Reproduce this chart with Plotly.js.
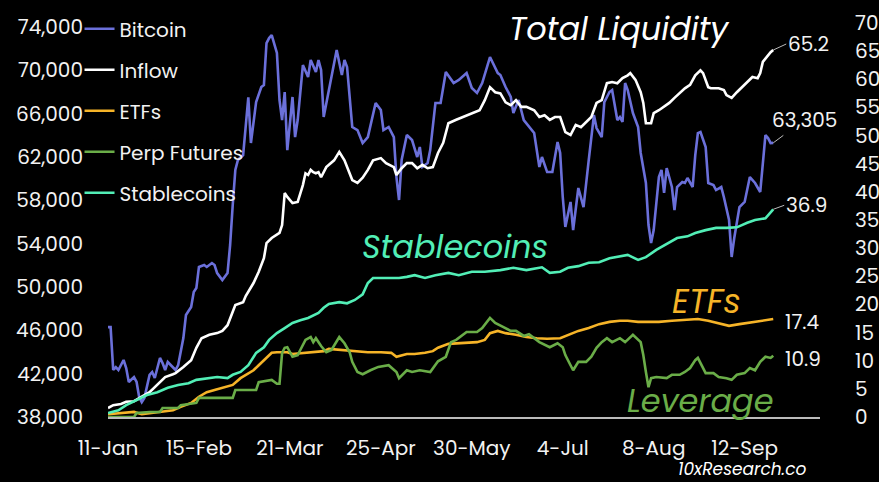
<!DOCTYPE html>
<html><head><meta charset="utf-8">
<script src="https://cdn.plot.ly/plotly-3.0.1.min.js"></script>
<style>html,body{margin:0;padding:0;background:#000;}#chart{width:879px;height:482px;}</style>
</head><body><div id="chart"></div>
<script>
// x values: days since 11-Jan-2024
const tickDays = [0, 35, 70, 105, 140, 175, 210, 245];
const tickLabels = ['11-Jan', '15-Feb', '21-Mar', '25-Apr', '30-May', '4-Jul', '8-Aug', '12-Sep'];
const leftTicks = [38000, 42000, 46000, 50000, 54000, 58000, 62000, 66000, 70000, 74000];

const btcDay = [0,1,2,3,4,6,7,8,10,11,12,13,14,16,17,18,20,21,22,23,26,27,29,30,32,33,34,35,37,38,40,41,42,44,46,47,48,49,50,52,54,55,57,59,60,61,62,63,65,66,67,68,69,71,72,73,75,77,78,80,81,82,83,85,86,88,90,91,92,94,96,98,100,103,105,106,108,110,111,112,113,115,117,119,120,121,123,124,126,128,130,133,135,138,140,142,144,147,150,151,153,155,156,158,160,162,164,166,167,169,171,173,174,175,176,178,179,181,183,185,187,188,190,191,193,194,196,197,198,199,200,202,204,205,207,208,209,210,212,213,214,215,217,218,219,221,222,223,225,226,227,228,230,231,233,234,236,237,239,240,241,243,245,247,249,251,252,253,254,255,256];
const btcVal = [46300,46300,42340,42600,42340,43260,42520,41230,41690,41230,39850,39380,39750,41880,42150,41600,43450,42980,42340,43080,42340,42800,45290,47410,48150,49540,49900,51850,52030,51850,52210,52030,51290,50650,51290,53880,57570,60800,61720,62180,67500,63290,67070,68460,68640,72520,72980,73260,71600,67260,65410,68000,62640,67540,63840,65410,70490,69380,70950,69840,70950,70030,65690,68180,69380,71870,69570,70950,70300,64770,64490,63290,63840,66980,66340,64490,64770,63840,60150,58030,61720,64030,63570,62000,62920,61080,61440,62640,66980,66980,69840,68830,69110,69750,68370,67910,68830,71230,69750,69570,68460,67540,66060,67260,65410,64770,64210,61080,62000,60610,60610,63380,62370,58310,55540,57850,55260,59140,57380,61720,65870,64670,63840,67070,68000,68180,65410,65690,65230,68830,68180,66060,64770,62370,59600,55720,54060,55260,60150,60800,58680,60980,59230,57110,59230,59690,59600,60060,59230,62180,64210,64310,62920,59600,59410,58950,59230,58310,56180,52770,54520,57380,57850,60150,59600,58770,61080,64030,63750,63290,63305];

const flowDay = [0,2,5,7,10,12,13,16,19,22,25,26,29,32,34,36,39,42,44,46,48,49,52,53,56,58,60,61,63,65,66,67,68,69,71,73,75,76,77,78,79,80,81,82,84,87,89,91,92,94,96,98,100,102,105,107,110,111,113,115,117,119,121,123,125,127,129,131,134,138,140,143,145,147,149,151,153,155,157,159,161,164,166,168,170,172,174,176,178,180,182,184,186,188,190,192,194,196,198,200,201,203,205,206,207,209,210,212,214,216,218,220,222,224,226,228,229,231,232,235,237,238,240,242,244,246,248,250,251,252,254,255,256];
const flowVal = [1.6,2.1,2.3,2.7,2.8,3.4,3.6,4.4,5.7,7.1,7.6,7.8,8.9,10.1,12.3,14.0,14.6,14.9,15.3,16.3,18.7,19.9,20.4,21.5,23.8,25.8,28.2,30.9,31.8,32.3,32.7,34.1,39.8,39.1,38.0,38.2,41.2,43.3,43.0,43.9,43.5,43.3,43.5,42.6,44.4,45.6,47.1,45.6,44.4,42.1,41.6,42.5,43.9,45.6,46.0,45.1,44.4,43.0,44.2,45.1,45.1,44.2,44.8,44.2,44.4,46.9,48.7,52.2,52.8,53.6,54.0,54.5,56.3,58.6,57.7,57.5,55.9,55.4,56.3,55.1,55.1,54.5,53.3,53.6,52.8,53.3,53.3,50.6,50.1,51.9,51.5,52.4,53.3,55.8,56.3,59.3,59.5,59.3,60.2,60.7,61.1,59.9,57.7,55.8,52.2,52.2,54.0,54.5,55.1,55.8,56.7,57.5,58.4,59.0,60.7,61.6,61.1,58.6,58.4,58.4,58.1,57.2,56.7,57.7,58.6,59.5,60.4,60.2,61.1,63.1,64.3,64.8,65.2];

const etfDay = [0,5,10,13,17,21,25,28,32,35,38,41,44,48,51,53,56,58,61,63,65,69,71,75,79,83,85,90,95,100,105,109,111,115,118,122,125,127,131,136,142,145,147,150,153,157,161,165,169,174,177,181,185,189,193,197,200,204,208,212,217,222,227,231,235,239,243,246,250,256];
const etfVal = [0.5,0.7,0.9,0.5,0.7,0.9,1.2,1.8,2.5,3.6,4.4,4.8,5.2,5.7,6.9,7.5,8.3,9.2,10.5,11.4,11.5,11.5,11.2,11.4,11.5,11.7,12.1,11.9,11.7,11.5,11.5,11.4,10.7,11.2,11.2,11.4,11.7,12.3,13.0,13.1,13.3,13.7,14.9,15.3,14.9,14.6,14.2,14.0,13.9,14.0,14.6,15.3,15.8,16.5,16.9,17.1,17.1,16.9,16.9,16.9,17.1,17.2,17.4,17.1,16.7,16.2,16.5,16.7,16.9,17.4];

const perpDay = [0,10,11,16,20,21,27,28,34,35,48,49,57,58,63,65,66,67,68,69,71,73,74,76,78,79,80,82,84,86,89,91,93,94,96,98,101,104,108,111,112,115,117,120,124,127,130,132,134,138,142,144,147,149,152,155,157,160,162,166,170,173,175,176,178,179,181,184,186,188,190,192,194,197,199,201,202,205,206,207,208,209,211,215,217,220,222,224,226,227,229,230,233,235,238,240,242,245,247,249,251,253,255,256];
const perpVal = [0,0,0.7,0.9,0.9,1.6,1.6,2.1,2.5,3.4,3.4,4.8,4.8,6.2,6.6,5.9,5.9,11.4,12.3,12.4,10.7,11.0,11.9,13.7,14.2,13.3,14.0,12.6,11.5,11.9,14.2,13.1,11.5,9.8,8.0,7.6,8.3,8.9,9.2,8.0,6.9,8.3,8.0,8.3,8.0,9.9,10.7,13.3,13.7,15.1,15.1,15.8,17.6,16.7,16.0,15.3,15.3,14.4,14.7,13.3,12.4,13.1,12.4,11.0,9.2,8.3,9.8,9.8,10.7,12.3,13.3,14.0,13.3,14.0,13.3,14.2,14.6,13.3,11.0,8.0,5.3,6.9,7.1,6.9,7.5,7.5,8.0,8.7,10.1,10.5,8.7,7.8,7.8,7.1,6.9,6.6,7.5,7.8,8.7,8.3,9.8,10.7,10.5,10.9];

const stableDay = [0,4,7,11,15,19,23,27,31,34,38,42,46,48,51,54,57,60,62,65,68,71,74,77,81,83,85,89,92,95,98,100,102,107,112,115,118,122,126,131,135,140,145,151,156,161,167,170,174,177,181,185,189,193,197,200,204,207,211,215,219,223,226,230,234,238,242,246,249,253,255,256];
const stableVal = [0.7,1.2,2.1,3.0,3.9,4.4,5.2,5.7,6.0,6.6,6.9,7.1,6.9,7.5,8.0,9.2,11.4,12.4,13.7,14.9,15.8,16.7,17.2,17.6,18.5,19.4,20.1,20.4,20.2,20.8,21.8,23.8,24.7,24.7,24.7,24.9,25.2,24.7,25.2,25.6,25.2,25.8,25.8,26.1,26.5,26.1,26.6,25.6,25.8,26.5,26.8,27.4,27.5,28.2,28.6,28.8,27.9,28.4,29.7,30.7,31.8,32.1,32.7,33.2,33.6,33.6,33.7,34.5,35.0,35.3,36.4,36.9];

const C = {btc:'#6b70da', flow:'#ffffff', etf:'#f6b428', perp:'#6aad48', stable:'#52eeb6'};
const FONT = 'Poppins, Inter, "Open Sans", sans-serif';

function tr(name, xs, ys, color, axis, grp) {
  return {type:'scatter', mode:'lines', name:name, x:xs, y:ys, yaxis:axis,
    legendgroup:grp, line:{color:color, width:2.6}, hoverinfo:'skip'};
}
const data = [
  tr('Bitcoin', btcDay, btcVal, C.btc, 'y', 'a'),
  tr('Inflow', flowDay, flowVal, C.flow, 'y2', 'b'),
  tr('ETFs', etfDay, etfVal, C.etf, 'y2', 'c'),
  tr('Perp Futures', perpDay, perpVal, C.perp, 'y2', 'd'),
  tr('Stablecoins', stableDay, stableVal, C.stable, 'y2', 'e')
];

const last = a => a[a.length - 1];
const numFont = {family:FONT, size:20, color:'#f2f2f2'};
const lbl = (text, x, y, size, color, italic) => ({xref:'paper', yref:'paper', x:x, y:y,
  xanchor:'center', yanchor:'middle', text:text, showarrow:false,
  font:{family:FONT, size:size, color:color, style:italic ? 'italic' : 'normal'}});
const annotations = [
  lbl('Total Liquidity', 0.719, 0.985, 32, '#ffffff', true),
  lbl('Stablecoins', 0.487, 0.434, 32, C.stable, true),
  lbl('ETFs', 0.84, 0.292, 33, C.etf, true),
  lbl('Leverage', 0.832, 0.043, 32, C.perp, true),
  lbl('10xResearch.co', 0.89, -0.133, 17, '#ffffff', true),
  {x:last(flowDay), y:last(flowVal), xref:'x', yref:'y2', text:last(flowVal).toFixed(1),
    xanchor:'left', yanchor:'middle',
    showarrow:true, arrowhead:0, arrowwidth:1, arrowcolor:'#bbbbbb', ax:13, ay:-6, font:numFont},
  {x:last(btcDay), y:last(btcVal), xref:'x', yref:'y', text:last(btcVal).toLocaleString('en-US'),
    xanchor:'center', yanchor:'middle',
    showarrow:true, arrowhead:0, arrowwidth:1, arrowcolor:'#bbbbbb', ax:31, ay:-23, font:numFont},
  {x:last(stableDay), y:last(stableVal), xref:'x', yref:'y2', text:last(stableVal).toFixed(1),
    xanchor:'left', yanchor:'middle',
    showarrow:true, arrowhead:0, arrowwidth:1, arrowcolor:'#bbbbbb', ax:11, ay:-4, font:numFont},
  {x:last(etfDay), y:last(etfVal), xref:'x', yref:'y2', text:last(etfVal).toFixed(1),
    showarrow:false, xanchor:'left', yanchor:'middle', xshift:10, yshift:-3, font:numFont},
  {x:last(perpDay), y:last(perpVal), xref:'x', yref:'y2', text:last(perpVal).toFixed(1),
    showarrow:false, xanchor:'left', yanchor:'middle', xshift:10, yshift:-3, font:numFont}
];

const layout = {
  width:879, height:482, autosize:false,
  paper_bgcolor:'#000000', plot_bgcolor:'#000000',
  margin:{l:108, r:59, t:23, b:65, pad:0, autoexpand:false},
  font:{family:FONT, size:20, color:'#f2f2f2'},
  showlegend:true,
  legend:{x:-0.04, y:1.035, xanchor:'left', yanchor:'top', bgcolor:'rgba(0,0,0,0)',
    tracegroupgap:12, font:{family:FONT, size:20, color:'#f2f2f2'}},
  xaxis:{type:'linear', range:[0, 274], tickvals:tickDays, ticktext:tickLabels,
    showline:true, linecolor:'#bbbbbb', linewidth:1.5, showgrid:false, zeroline:false,
    ticks:'', ticklabelstandoff:12, fixedrange:true, automargin:false},
  yaxis:{range:[38000, 74370], tickvals:leftTicks, tickformat:',', showgrid:false,
    zeroline:false, showline:false, ticks:'', ticklabelstandoff:24, fixedrange:true, automargin:false},
  yaxis2:{overlaying:'y', side:'right', range:[0, 70], dtick:5, tick0:0, showgrid:false,
    zeroline:false, showline:false, ticks:'', ticklabelstandoff:34, fixedrange:true, automargin:false},
  annotations:annotations
};

Plotly.newPlot('chart', data, layout, {displayModeBar:false, staticPlot:true});
</script></body></html>
